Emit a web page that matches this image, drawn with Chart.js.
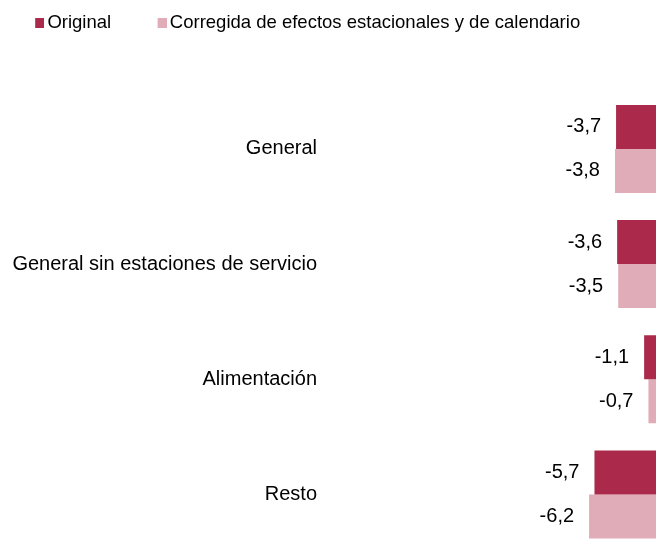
<!DOCTYPE html>
<html lang="es">
<head>
    <meta charset="UTF-8">
    <title>Original y corregida</title>
    <script src="https://cdn.jsdelivr.net/npm/chart.js"></script>
    <style>
        html, body { margin: 0; padding: 0; overflow: hidden; background: #fff; }
        #wrap { position: relative; width: 656px; height: 552px; }
    </style>
</head>
<body>

<div id="wrap">
    <canvas id="chart"></canvas>
</div>

<script>
    // data
    var categories = ['General', 'General sin estaciones de servicio', 'Alimentación', 'Resto'];
    var original = [-3.7, -3.6, -1.1, -5.7];
    var corregida = [-3.8, -3.5, -0.7, -6.2];
    var seriesNames = ['Original', 'Corregida de efectos estacionales y de calendario'];

    var colors = ['#ab2a4b', '#dfacb8'];
    var fontFamily = '"Liberation Sans", Arial, sans-serif';

    // legend marker: square sitting on the right side of a 12px wide image
    function makeSwatch(color) {
        var c = document.createElement('canvas');
        c.width = 12;
        c.height = 10;
        var g = c.getContext('2d');
        g.fillStyle = color;
        g.fillRect(3, 0, 9, 10);
        return c;
    }
    var swatches = colors.map(makeSwatch);

    // value labels to the left of each bar
    var valueLabels = {
        id: 'valueLabels',
        afterDatasetsDraw: function(chart) {
            var ctx = chart.ctx;
            ctx.save();
            ctx.font = '20px ' + fontFamily;
            ctx.fillStyle = '#000';
            ctx.textAlign = 'right';
            ctx.textBaseline = 'middle';
            chart.data.datasets.forEach(function(ds, i) {
                var meta = chart.getDatasetMeta(i);
                meta.data.forEach(function(bar, j) {
                    var txt = ds.data[j].toFixed(1).replace('.', ',');
                    ctx.fillText(txt, Math.min(bar.x, bar.base) - 15, bar.y);
                });
            });
            ctx.restore();
        }
    };

    var ctx = document.getElementById('chart').getContext('2d');
    var chart = new Chart(ctx, {
        type: 'bar',
        data: {
            labels: categories,
            datasets: [{
                label: seriesNames[0],
                data: original,
                backgroundColor: colors[0]
            }, {
                label: seriesNames[1],
                data: corregida,
                backgroundColor: colors[1]
            }]
        },
        options: {
            indexAxis: 'y',
            responsive: true,
            maintainAspectRatio: false,
            animation: false,
            categoryPercentage: 0.764,
            barPercentage: 1.0,
            layout: {
                padding: { left: -11.3, top: -35.7, right: 0, bottom: 0 }
            },
            plugins: {
                tooltip: { enabled: false },
                legend: {
                    position: 'top',
                    align: 'start',
                    labels: {
                        usePointStyle: true,
                        pointStyleWidth: 0.01,
                        boxHeight: 10,
                        padding: 49.44,
                        color: '#000',
                        font: { family: fontFamily, size: 18.5 },
                        generateLabels: function(chart) {
                            return chart.data.datasets.map(function(ds, i) {
                                return {
                                    text: ds.label,
                                    fillStyle: colors[i],
                                    strokeStyle: colors[i],
                                    lineWidth: 0,
                                    pointStyle: swatches[i],
                                    hidden: false,
                                    datasetIndex: i
                                };
                            });
                        }
                    }
                }
            },
            scales: {
                x: {
                    position: 'top',
                    min: -30.2,
                    max: 0,
                    grid: { display: false, drawTicks: false },
                    border: { display: false },
                    ticks: { display: false },
                    afterFit: function(scale) { scale.height = 49.05; }
                },
                y: {
                    grid: { display: false, drawTicks: false },
                    border: { display: false },
                    ticks: {
                        padding: 13,
                        color: '#000',
                        font: { family: fontFamily, size: 20 }
                    },
                    afterFit: function(scale) {
                        scale.width = 341.3;
                        scale.paddingTop = 0;
                        scale.paddingBottom = 0;
                    }
                }
            }
        },
        plugins: [valueLabels]
    });
</script>

</body>
</html>
